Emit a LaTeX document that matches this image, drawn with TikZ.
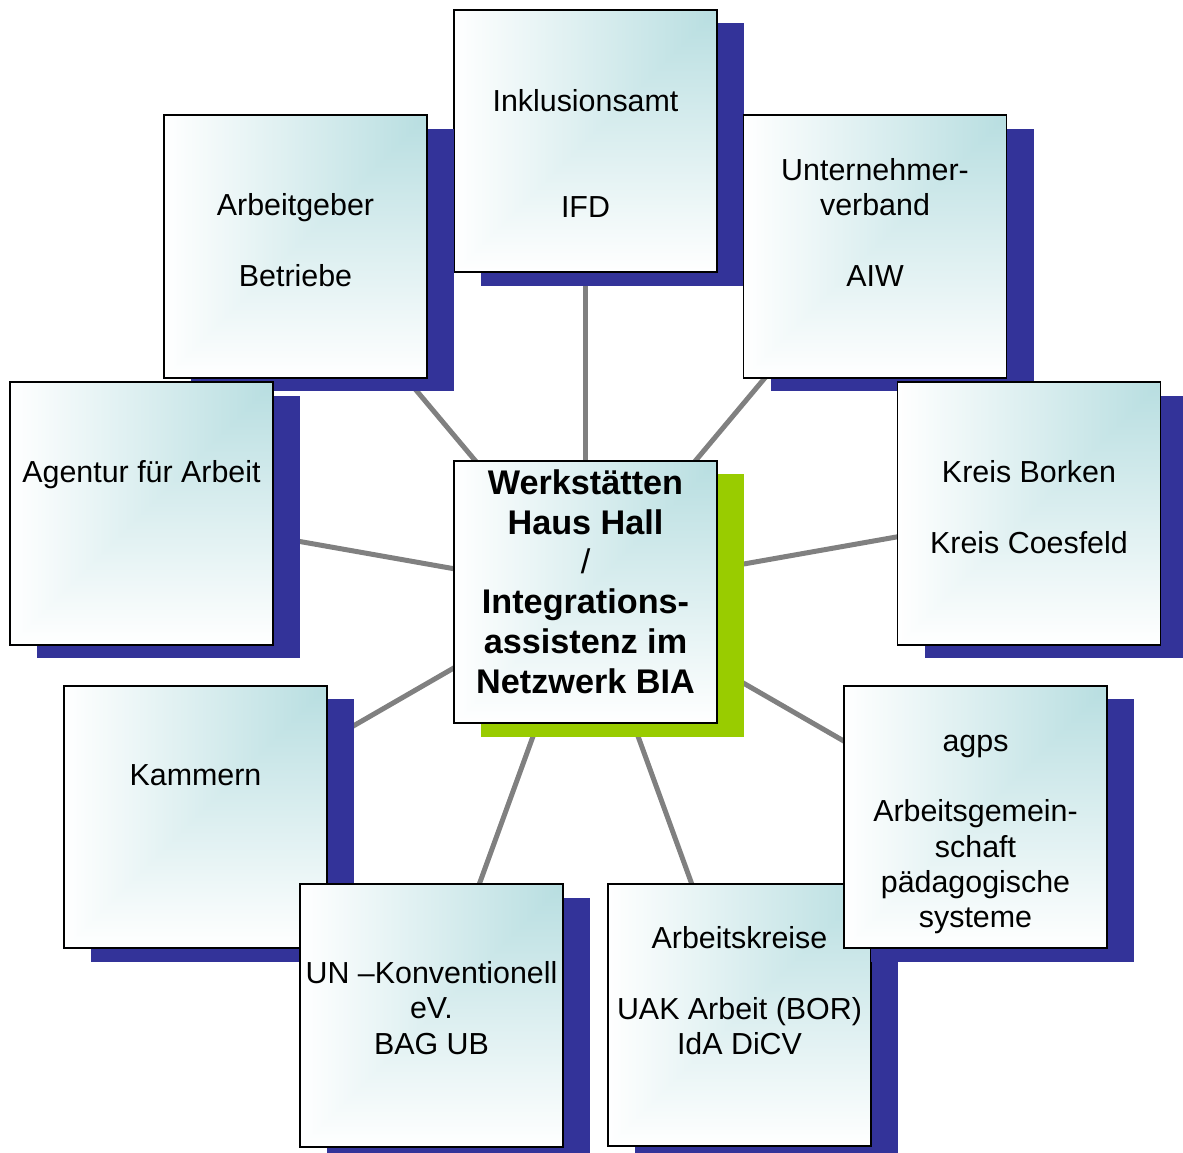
\documentclass[tikz,border=0pt]{standalone}
\usepackage{fontspec}
\setmainfont{Liberation Sans}
\usetikzlibrary{shadows}
\definecolor{shblue}{RGB}{51,51,153}
\definecolor{shgreen}{RGB}{153,204,0}
\definecolor{linkgray}{RGB}{128,128,128}
\pgfdeclarefunctionalshading{cornerfade}{\pgfpointorigin}{\pgfpoint{100bp}{100bp}}{}{
  75 exch sub 50 div exch 75 exch sub 50 div
  2 copy lt {exch} if pop
  dup 0 lt {pop 0} if
  dup 1 gt {pop 1} if
  dup 0.28 mul 0.72 add
  exch dup 0.13 mul 0.87 add
  exch 0.12 mul 0.88 add
}
\pgfdeclarelayer{bg}
\pgfsetlayers{bg,main}
\newcommand\tstrut{\rule{0pt}{28pt}}
\begin{document}
\begin{tikzpicture}[x=1pt,y=-1pt,
  card/.style={draw=black, line width=1.8pt, shade, shading=cornerfade,
    minimum width=263pt, minimum height=262.5pt, inner sep=0pt,
    drop shadow={shadow xshift=27pt, shadow yshift=-13.5pt, fill=#1, opacity=1}},
  card/.default=shblue,
  lbl/.style={anchor=north, align=center, inner sep=0pt,
    font=\fontsize{30.4}{35.3}\selectfont},
  blbl/.style={anchor=north, align=center, inner sep=0pt,
    font=\fontsize{34.2}{39.7}\selectfont\bfseries},
  link/.style={draw=linkgray, line width=5pt}]
\useasboundingbox (0,0) rectangle (1183,1153);

\node[card=shgreen] (c) at (585.5,592) {};
\node[blbl] (tc) at (585.5,466.3) {\tstrut Werkstätten\\Haus Hall\\{\mdseries /}\\Integrations-\\assistenz im\\Netzwerk BIA};

\node[card] (inkl) at (585.5,141) {};
\node[lbl] (tinkl) at (585.5,83) {\tstrut Inklusionsamt\\ \\ \\IFD};

\node[card] (arb) at (295.5,246.5) {};
\node[lbl] (tarb) at (295.5,187.7) {\tstrut Arbeitgeber\\ \\Betriebe};

\node[card] (unt) at (875,246.5) {};
\node[lbl] (tunt) at (875,152) {\tstrut Unternehmer-\\verband\\ \\AIW};

\node[card] (age) at (141.5,513.5) {};
\node[lbl] (tage) at (141.5,454.3) {\tstrut Agentur für Arbeit};

\node[card] (kre) at (1029,513.5) {};
\node[lbl] (tkre) at (1029,454.3) {\tstrut Kreis Borken\\ \\Kreis Coesfeld};

\node[card] (kam) at (195.5,817) {};
\node[lbl] (tkam) at (195.5,757.7) {\tstrut Kammern};

\node[card] (un) at (431.5,1015.5) {};
\node[lbl] (tun) at (431.5,955.3) {\tstrut UN –Konventionell\\eV.\\BAG UB};

\node[card] (ak) at (739.5,1015) {};
\node[lbl] (tak) at (739.5,920.3) {\tstrut Arbeitskreise\\ \\UAK Arbeit (BOR)\\IdA DiCV};

\node[card] (agps) at (975.5,817) {};
\node[lbl] (tagps) at (975.5,723) {\tstrut agps\\ \\Arbeitsgemein-\\schaft\\pädagogische\\systeme};

\begin{pgfonlayer}{bg}
  \foreach \t in {inkl,arb,unt,age,kre,kam,un,ak,agps}
    \draw[link] (c.center) -- (\t.center);
\end{pgfonlayer}
\end{tikzpicture}
\end{document}
